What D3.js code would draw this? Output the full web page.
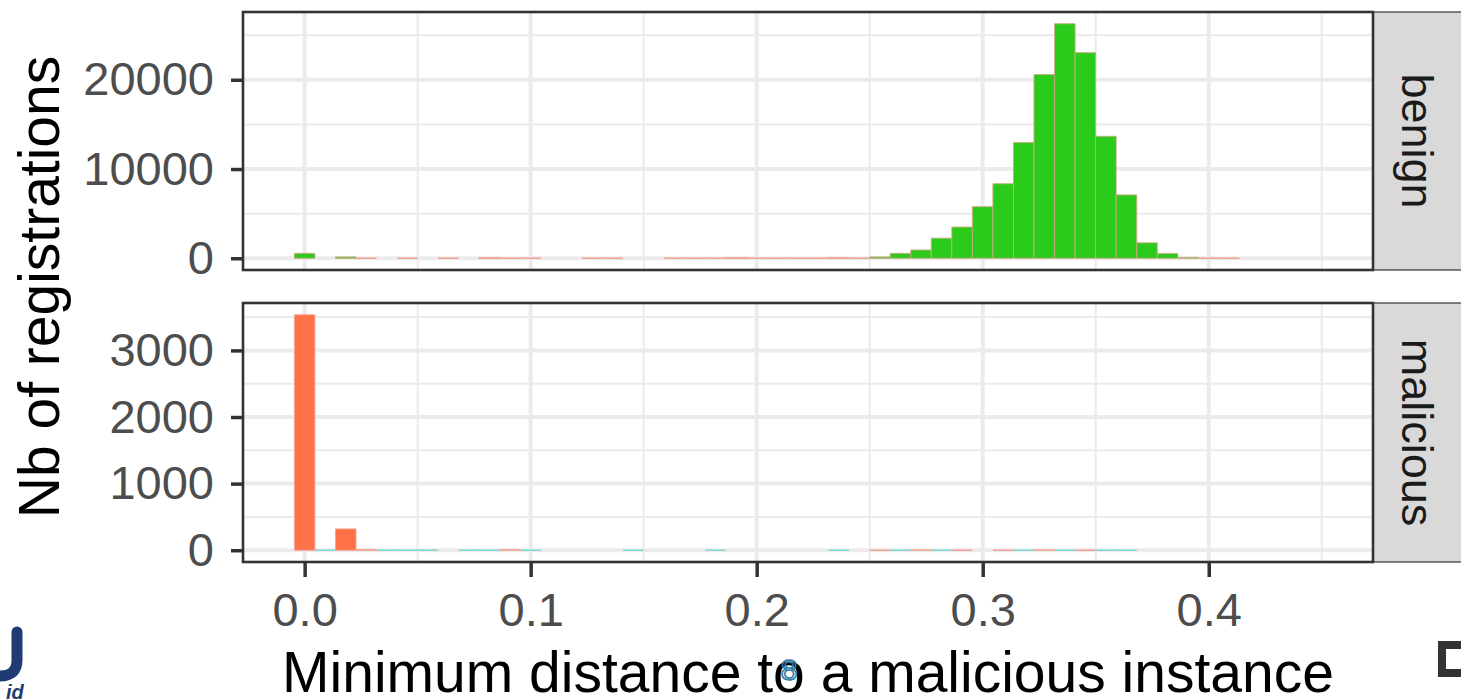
<!DOCTYPE html>
<html>
<head>
<meta charset="utf-8">
<script src="https://cdn.jsdelivr.net/npm/d3@7"></script>
<style>
  body { margin: 0; background: #fff; }
  svg { display: block; font-family: "Liberation Sans", Arial, Helvetica, sans-serif; }
</style>
</head>
<body>
<div id="chart"></div>
<script>
// histogram bins (ggplot default: 50 bins, first one centred on 0)
const binWidth = 0.00909
const nBins = 50
const N = null

// benign facet, green bars
const benignGreen = [550, N, 150, N, N, N, N, N, N, N,
                     N, N, N, N, N, N, N, N, N, N,
                     N, N, N, N, N, N, N, N, 150, 550,
                     930, 2250, 3500, 5780, 8350, 12980, 20580, 26280, 23040, 13670,
                     7100, 1730, 520, 100, N, N, N, N, N, N]
// benign facet, near-zero salmon bars (only outlines are visible)
const benignSalmon = [N, N, N, 0, N, 0, N, 0, N, 40,
                      0, 0, N, N, 0, 0, N, N, 0, 0,
                      0, 40, 0, 0, 0, 0, 40, 0, N, N,
                      N, N, N, N, N, N, N, N, N, N,
                      N, N, N, N, 0, 0, N, N, N, N]
// malicious facet, orange bars
const maliciousOrange = [3535, N, 320, 10, N, N, N, N, N, N,
                         8, N, N, N, N, N, N, N, N, N,
                         N, N, N, N, N, N, N, N, N, N,
                         4, N, N, N, N, N, 4, N, N, N,
                         N, N, N, N, N, N, N, N, N, N]
// malicious facet, zero-count bins drawn as thin lines
const maliciousSalmonBins = [28, 32, 34, 38]
const maliciousCyanBins = [1, 4, 5, 6, 8, 9, 11, 16, 20, 26, 29, 31, 35, 37, 39, 40]

const xTicks = [0, 0.1, 0.2, 0.3, 0.4]
const xMinor = [0.05, 0.15, 0.25, 0.35, 0.45]
const benignTicks = [0, 10000, 20000]
const benignMinor = [5000, 15000, 25000]
const maliciousTicks = [0, 1000, 2000, 3000]
const maliciousMinor = [500, 1500, 2500, 3500]

const facetNames = ["benign", "malicious"]
const yTitle = "Nb of registrations"
const xTitle = "Minimum distance to a malicious instance"

const W = 1461, H = 699
const panelLeft = 243, panelRight = 1373
const panels = [{top: 12, bottom: 270}, {top: 303, bottom: 562}]

const green = "#2ACB1A", orange = "#FF7148", salmon = "#F4A194", cyan = "#7FD8D8"
const gridCol = "#EBEBEB", dark = "#333333", axisText = "#4D4D4D"

const svg = d3.select("#chart").append("svg")
    .attr("width", W)
    .attr("height", H)

// ggplot style 5% expansion
const xLo = -binWidth / 2, xHi = (nBins - 0.5) * binWidth
const xPad = (xHi - xLo) * 0.05
const x = d3.scaleLinear()
    .domain([xLo - xPad, xHi + xPad])
    .range([panelLeft, panelRight])

function yScale(values, p) {
    const max = d3.max(values.filter(v => v != null))
    return d3.scaleLinear()
        .domain([-0.05 * max, max * 1.05])
        .range([p.bottom, p.top])
}
const yBenign = yScale(benignGreen, panels[0])
const yMalicious = yScale(maliciousOrange, panels[1])

function drawPanel(p, y, major, minor, name) {
    const g = svg.append("g")
    g.append("rect")
        .attr("x", panelLeft).attr("y", p.top)
        .attr("width", panelRight - panelLeft).attr("height", p.bottom - p.top)
        .attr("fill", "#fff")

    // grid
    g.selectAll(".hminor").data(minor).join("line")
        .attr("x1", panelLeft).attr("x2", panelRight)
        .attr("y1", d => y(d)).attr("y2", d => y(d))
        .attr("stroke", gridCol).attr("stroke-width", 2)
    g.selectAll(".vminor").data(xMinor).join("line")
        .attr("x1", d => x(d)).attr("x2", d => x(d))
        .attr("y1", p.top).attr("y2", p.bottom)
        .attr("stroke", gridCol).attr("stroke-width", 2)
    g.selectAll(".hmajor").data(major).join("line")
        .attr("x1", panelLeft).attr("x2", panelRight)
        .attr("y1", d => y(d)).attr("y2", d => y(d))
        .attr("stroke", gridCol).attr("stroke-width", 4)
    g.selectAll(".vmajor").data(xTicks).join("line")
        .attr("x1", d => x(d)).attr("x2", d => x(d))
        .attr("y1", p.top).attr("y2", p.bottom)
        .attr("stroke", gridCol).attr("stroke-width", 4)

    // strip on the right
    svg.append("rect")
        .attr("x", panelRight).attr("y", p.top)
        .attr("width", 120).attr("height", p.bottom - p.top)
        .attr("fill", "#D9D9D9").attr("stroke", dark).attr("stroke-width", 1.2)
    svg.append("text")
        .attr("transform", `translate(${panelRight + 44},${(p.top + p.bottom) / 2}) rotate(90)`)
        .attr("text-anchor", "middle")
        .attr("dominant-baseline", "central")
        .attr("fill", "#1A1A1A")
        .attr("font-size", 45)
        .text(name)

    // y axis
    svg.append("g")
        .attr("transform", `translate(${panelLeft},0)`)
        .call(d3.axisLeft(y).tickValues(major).tickSize(12).tickPadding(17).tickFormat(d3.format("d")))
        .call(a => a.select(".domain").remove())
        .call(a => a.selectAll("line").attr("stroke", dark).attr("stroke-width", 3.5))
        .call(a => a.selectAll("text").attr("fill", axisText).attr("font-size", 47)
            .attr("font-family", "Liberation Sans, Arial, sans-serif"))
    return g
}

// bars as paths so that zero-count bins still show their outline
function drawBars(g, counts, y, fill, stroke, sw) {
    const data = counts.map((c, i) => ({i, c})).filter(d => d.c != null)
    g.selectAll(null).data(data).join("path")
        .attr("d", d => {
            const x0 = x((d.i - 0.5) * binWidth), x1 = x((d.i + 0.5) * binWidth)
            const y0 = y(0), y1 = y(d.c)
            return `M${x0},${y0}H${x1}V${y1}H${x0}Z`
        })
        .attr("fill", fill)
        .attr("stroke", stroke)
        .attr("stroke-width", sw)
}

const g1 = drawPanel(panels[0], yBenign, benignTicks, benignMinor, facetNames[0])
drawBars(g1, benignSalmon, yBenign, salmon, salmon, 1.4)
drawBars(g1, benignGreen, yBenign, green, "#C9A97E", 0.9)

const g2 = drawPanel(panels[1], yMalicious, maliciousTicks, maliciousMinor, facetNames[1])
const cyanCounts = d3.range(nBins).map(i => maliciousCyanBins.includes(i) ? 0 : null)
const salmonCounts = d3.range(nBins).map(i => maliciousSalmonBins.includes(i) ? 0 : null)
drawBars(g2, cyanCounts, yMalicious, cyan, cyan, 1.4)
drawBars(g2, salmonCounts, yMalicious, salmon, salmon, 1.4)
drawBars(g2, maliciousOrange, yMalicious, orange, "#F2A58E", 0.9)

// panel borders
panels.forEach(p => {
    svg.append("rect")
        .attr("x", panelLeft).attr("y", p.top)
        .attr("width", panelRight - panelLeft).attr("height", p.bottom - p.top)
        .attr("fill", "none").attr("stroke", dark).attr("stroke-width", 2.6)
})

// x axis
svg.append("g")
    .attr("transform", `translate(0,${panels[1].bottom})`)
    .call(d3.axisBottom(x).tickValues(xTicks).tickSize(15).tickPadding(16).tickFormat(d3.format(".1f")))
    .call(a => a.select(".domain").remove())
    .call(a => a.selectAll("line").attr("stroke", dark).attr("stroke-width", 3.5))
    .call(a => a.selectAll("text").attr("fill", axisText).attr("font-size", 47)
        .attr("font-family", "Liberation Sans, Arial, sans-serif"))

// titles
svg.append("text")
    .attr("transform", `translate(59,${(panels[0].top + panels[1].bottom) / 2}) rotate(-90)`)
    .attr("text-anchor", "middle")
    .attr("font-size", 57)
    .attr("fill", "#000")
    .text(yTitle)

svg.append("text")
    .attr("x", (panelLeft + panelRight) / 2)
    .attr("y", 692)
    .attr("text-anchor", "middle")
    .attr("font-size", 57)
    .attr("fill", "#000")
    .text(xTitle)

// slide leftovers: page number, logo fragment, corner box
svg.append("text")
    .attr("x", 789).attr("y", 680)
    .attr("text-anchor", "middle")
    .attr("font-size", 30)
    .attr("fill", "none").attr("stroke", "#2F7DA8").attr("stroke-width", 1.6)
    .text("8")

svg.append("path")
    .attr("d", "M -20 632 L -20 660 Q -20 676 0 676 Q 17 676 17 660 L 17 632")
    .attr("fill", "none").attr("stroke", "#1E3C73").attr("stroke-width", 11)
    .attr("stroke-linecap", "round")
svg.append("text")
    .attr("x", 6).attr("y", 699)
    .attr("font-size", 20).attr("font-weight", "bold").attr("font-style", "italic")
    .attr("fill", "#1E3C73")
    .text("id")

svg.append("rect")
    .attr("x", 1442).attr("y", 645)
    .attr("width", 30).attr("height", 28)
    .attr("fill", "none").attr("stroke", "#333").attr("stroke-width", 8)
</script>
</body>
</html>
